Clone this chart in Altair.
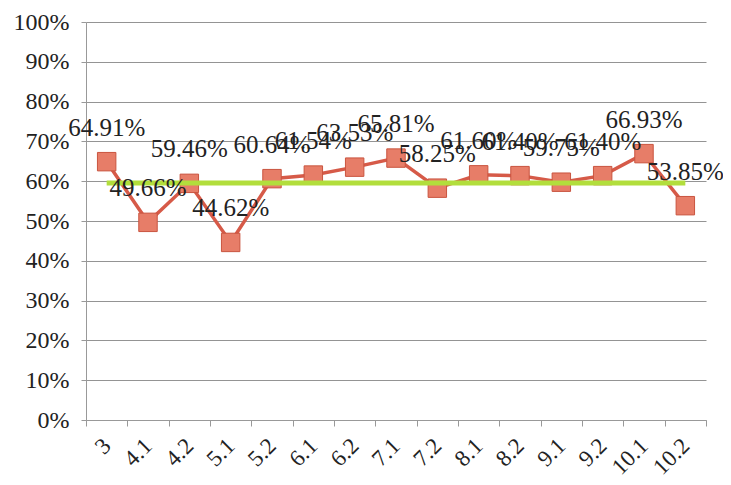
import altair as alt
import pandas as pd

categories = ["3", "4.1", "4.2", "5.1", "5.2", "6.1", "6.2", "7.1", "7.2",
              "8.1", "8.2", "9.1", "9.2", "10.1", "10.2"]
values = [64.91, 49.66, 59.46, 44.62, 60.64, 61.54, 63.53, 65.81, 58.25,
          61.60, 61.40, 59.75, 61.40, 66.93, 53.85]
y_ticks = [0, 0.1, 0.2, 0.3, 0.4, 0.5, 0.6, 0.7, 0.8, 0.9, 1.0]

df = pd.DataFrame({
    "cat": categories,
    "v": [v / 100 for v in values],
    "label": [f"{v:.2f}%" for v in values],
})

FONT = "Liberation Serif"
W, H = 620, 398

x_axis = alt.Axis(labelAngle=315, labelAlign="right", labelBaseline="middle",
                  labelPadding=16, labelOverlap=False, tickBand="extent",
                  ticks=True, tickSize=6, grid=False)
y_axis = alt.Axis(format=".0%", values=y_ticks, tickCount=11,
                  labelOverlap=False, labelPadding=12, tickSize=5, grid=True)
y_scale = alt.Scale(domain=[0, 1], nice=False)

x_enc = alt.X("cat:N", sort=categories, title=None,
              scale=alt.Scale(paddingInner=0, paddingOuter=0), axis=x_axis)
y_enc = alt.Y("v:Q", title=None, scale=y_scale, axis=y_axis)

base = alt.Chart(df)

line = base.mark_line(color="#d65a48", strokeWidth=3.5).encode(x=x_enc, y=y_enc)
points = base.mark_point(shape="square", filled=True, size=340,
                         color="#e77d68", stroke="#c9543f",
                         strokeWidth=1, opacity=1).encode(x=x_enc, y=y_enc)
avg = base.transform_joinaggregate(m="mean(v)").mark_line(
    color="#b2de3c", strokeWidth=5).encode(
    x=x_enc, y=alt.Y("m:Q", title=None, scale=y_scale, axis=y_axis))
labels = base.mark_text(font=FONT, fontSize=25, color="#222", dy=-26,
                        baseline="alphabetic").encode(
    x=x_enc, y=y_enc, text="label:N")

chart = alt.layer(line, points, avg, labels).properties(
    width=W, height=H,
    autosize=alt.AutoSizeParams(type="none"),
    padding={"left": 78, "top": 14, "right": 17, "bottom": 62},
    background="white",
).configure_view(stroke=None).configure_axis(
    labelFont=FONT, labelColor="#222", tickColor="#999", domainColor="#999",
    gridColor="#949494", gridWidth=1
).configure_axisX(labelFontSize=23).configure_axisY(labelFontSize=24)

chart.save("out.html", embed_options={"renderer": "svg", "actions": False})
